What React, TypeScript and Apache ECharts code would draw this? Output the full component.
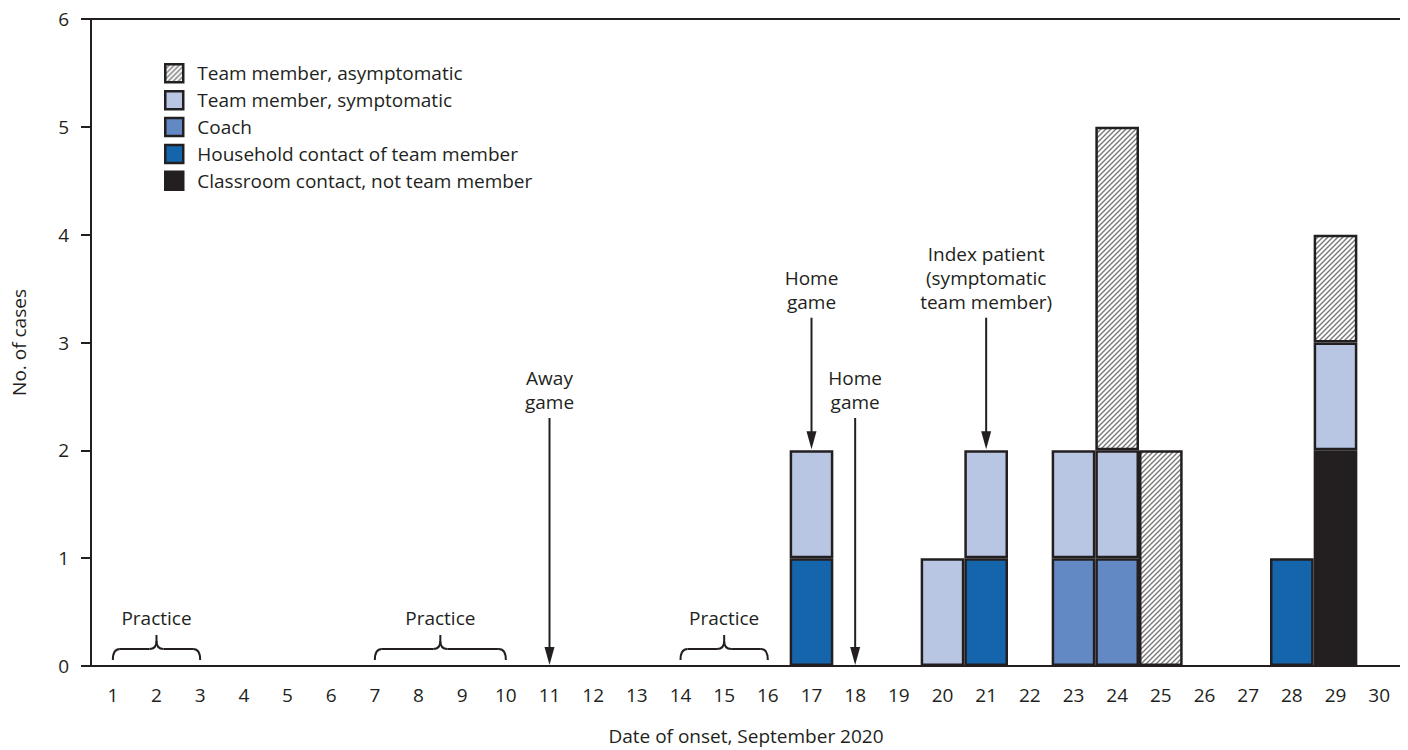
import React, { useEffect, useRef } from "react";
import * as echarts from "echarts";

// Onset days (September 2020)
const days: string[] = Array.from({ length: 30 }, (_, i) => String(i + 1));

// Cases per day by category (index 0 = Sept 1); null means no cases
const classroom: (number | null)[] = [
  null, null, null, null, null, null, null, null, null, null,
  null, null, null, null, null, null, null, null, null, null,
  null, null, null, null, null, null, null, null, 2, null,
];
const household: (number | null)[] = [
  null, null, null, null, null, null, null, null, null, null,
  null, null, null, null, null, null, 1, null, null, null,
  1, null, null, null, null, null, null, 1, null, null,
];
const coach: (number | null)[] = [
  null, null, null, null, null, null, null, null, null, null,
  null, null, null, null, null, null, null, null, null, null,
  null, null, 1, 1, null, null, null, null, null, null,
];
const symptomatic: (number | null)[] = [
  null, null, null, null, null, null, null, null, null, null,
  null, null, null, null, null, null, 1, null, null, 1,
  1, null, 1, 1, null, null, null, null, 1, null,
];
const asymptomatic: (number | null)[] = [
  null, null, null, null, null, null, null, null, null, null,
  null, null, null, null, null, null, null, null, null, null,
  null, null, null, 3, 2, null, null, null, 1, null,
];

const seriesNames = [
  "Team member, asymptomatic",
  "Team member, symptomatic",
  "Coach",
  "Household contact of team member",
  "Classroom contact, not team member",
];

// Event arrows: day, label lines, arrow start/end on the case scale
const events = [
  { day: 11, lines: ["Away", "game"], from: 2.3, to: 0 },
  { day: 17, lines: ["Home", "game"], from: 3.23, to: 2 },
  { day: 18, lines: ["Home", "game"], from: 2.3, to: 0 },
  { day: 21, lines: ["Index patient", "(symptomatic", "team member)"], from: 3.23, to: 2 },
];

// Practice periods (first day, last day)
const practices: [number, number][] = [
  [1, 3],
  [7, 10],
  [14, 16],
];

const INK = "#231f20";
const FONT = "Open Sans";
const FS = 19;

// Diagonal hatch tile ("/" stripes on white)
function makeHatch(): HTMLCanvasElement {
  const s = 5;
  const c = document.createElement("canvas");
  c.width = s;
  c.height = s;
  const g = c.getContext("2d")!;
  g.fillStyle = "#ffffff";
  g.fillRect(0, 0, s, s);
  g.strokeStyle = "#777777";
  g.lineWidth = 1.4;
  g.beginPath();
  g.moveTo(-1, s + 1);
  g.lineTo(s + 1, -1);
  g.moveTo(-1, 1);
  g.lineTo(1, -1);
  g.moveTo(s - 1, s + 1);
  g.lineTo(s + 1, s - 1);
  g.stroke();
  return c;
}

export default function App() {
  const ref = useRef<HTMLDivElement>(null);

  useEffect(() => {
    if (!ref.current) return;
    const chart = echarts.init(ref.current, undefined, { renderer: "svg" });

    const border = { borderColor: INK, borderWidth: 2.5 };
    const bar = (name: string, data: (number | null)[], color: any) => ({
      name,
      type: "bar",
      stack: "cases",
      data,
      barCategoryGap: "0%",
      itemStyle: { ...border, color },
      emphasis: { disabled: true },
    });

    chart.setOption({
      animation: false,
      backgroundColor: "#fff",
      textStyle: { fontFamily: FONT, color: INK },
      grid: {
        left: 91,
        right: 7,
        top: 19,
        bottom: 84,
        show: true,
        borderColor: INK,
        borderWidth: 2,
        containLabel: false,
      },
      legend: {
        orient: "vertical",
        left: 164,
        top: 63,
        padding: 0,
        itemWidth: 18,
        itemHeight: 18,
        itemGap: 6.4,
        icon: "rect",
        data: seriesNames,
        selectedMode: false,
        itemStyle: { borderColor: INK, borderWidth: 2.5 },
        textStyle: { fontFamily: FONT, fontSize: FS, color: INK, padding: [0, 0, 0, 9] },
      },
      xAxis: {
        type: "category",
        data: days,
        boundaryGap: true,
        name: "Date of onset, September 2020",
        nameLocation: "middle",
        nameGap: 60,
        nameTextStyle: { fontFamily: FONT, fontSize: FS, color: INK },
        axisLine: { lineStyle: { color: INK, width: 2 } },
        axisTick: { alignWithLabel: true, length: 10, lineStyle: { color: INK, width: 2 } },
        axisLabel: { fontFamily: FONT, fontSize: FS, color: INK, margin: 19, interval: 0 },
      },
      yAxis: {
        type: "value",
        min: 0,
        max: 6,
        interval: 1,
        name: "No. of cases",
        nameLocation: "middle",
        nameGap: 63,
        nameTextStyle: { fontFamily: FONT, fontSize: FS, color: INK },
        splitLine: { show: false },
        axisLine: { show: true, lineStyle: { color: INK, width: 2 } },
        axisTick: { show: true, length: 10, lineStyle: { color: INK, width: 2 } },
        axisLabel: { fontFamily: FONT, fontSize: FS, color: INK, margin: 22 },
      },
      series: [
        bar(seriesNames[4], classroom, INK),
        bar(seriesNames[3], household, "#1565ad"),
        bar(seriesNames[2], coach, "#6389c4"),
        bar(seriesNames[1], symptomatic, "#b8c6e3"),
        bar(seriesNames[0], asymptomatic, { image: makeHatch(), repeat: "repeat" }),
      ],
    });

    // Annotations placed through the axis scales
    const px = (dayIdx: number, v: number) =>
      chart.convertToPixel({ xAxisIndex: 0, yAxisIndex: 0 }, [dayIdx, v]) as number[];
    const xAt = (day: number) => {
      const lo = Math.floor(day);
      const frac = day - lo;
      const a = px(lo - 1, 0)[0];
      if (frac === 0) return a;
      const b = px(lo, 0)[0];
      return a + (b - a) * frac;
    };

    const lineStyle = { stroke: INK, lineWidth: 2 };
    const label = (text: string, x: number, y: number) => ({
      type: "text",
      x,
      y,
      style: {
        text,
        fill: INK,
        font: `${FS}px "${FONT}"`,
        align: "center",
        verticalAlign: "middle",
      },
      silent: true,
    });

    const elements: any[] = [];
    events.forEach((ev) => {
      const x = xAt(ev.day);
      const top = px(ev.day - 1, ev.from)[1];
      const tip = px(ev.day - 1, ev.to)[1] - 1;
      elements.push({
        type: "line",
        shape: { x1: x, y1: top, x2: x, y2: tip - 12 },
        style: lineStyle,
        silent: true,
      });
      elements.push({
        type: "polygon",
        shape: { points: [[x - 5, tip - 18], [x + 5, tip - 18], [x, tip]] },
        style: { fill: INK },
        silent: true,
      });
      const n = ev.lines.length;
      ev.lines.forEach((t, i) => {
        elements.push(label(t, x, top - 16 - (n - 1 - i) * 24));
      });
    });

    practices.forEach(([d1, d2]) => {
      const x1 = xAt(d1);
      const x2 = xAt(d2);
      const xm = (x1 + x2) / 2;
      const base = px(0, 0)[1];
      const yl = base - 17; // horizontal bar of the brace
      const ye = base - 6; // curled ends
      const yc = base - 31; // center cusp
      const r = 7;
      const st = { stroke: INK, lineWidth: 2, fill: null };
      elements.push(
        { type: "bezierCurve", shape: { x1, y1: ye, x2: x1 + r, y2: yl, cpx1: x1, cpy1: yl }, style: st, silent: true },
        { type: "line", shape: { x1: x1 + r, y1: yl, x2: xm - r, y2: yl }, style: st, silent: true },
        { type: "bezierCurve", shape: { x1: xm - r, y1: yl, x2: xm, y2: yc + 6, cpx1: xm, cpy1: yl }, style: st, silent: true },
        { type: "bezierCurve", shape: { x1: xm + r, y1: yl, x2: xm, y2: yc + 6, cpx1: xm, cpy1: yl }, style: st, silent: true },
        { type: "line", shape: { x1: xm, y1: yc + 6, x2: xm, y2: yc }, style: st, silent: true },
        { type: "line", shape: { x1: xm + r, y1: yl, x2: x2 - r, y2: yl }, style: st, silent: true },
        { type: "bezierCurve", shape: { x1: x2 - r, y1: yl, x2: x2, y2: ye, cpx1: x2, cpy1: yl }, style: st, silent: true },
      );
      elements.push(label("Practice", xm, base - 48));
    });

    chart.setOption({ graphic: { elements } });

    return () => chart.dispose();
  }, []);

  return <div ref={ref} style={{ width: 1408, height: 750, margin: "-8px 0 0 -8px" }} />;
}
